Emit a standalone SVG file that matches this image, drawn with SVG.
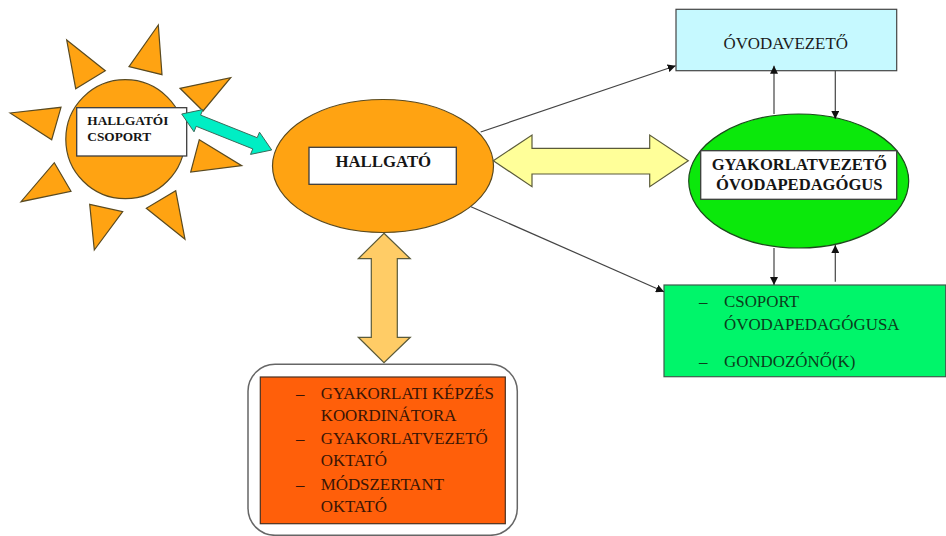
<svg xmlns="http://www.w3.org/2000/svg" width="946" height="536" viewBox="0 0 946 536">
<style>
text{font-family:"Liberation Serif","Times New Roman",serif;fill:#151515}
.n{font-size:16.9px;fill:#1c1c1c}
.dk{fill:#3a1505}
.dg{fill:#0b3d1c}
.b{font-weight:bold}
.s{stroke:#5a5a3a;stroke-width:1.2}
.o{fill:#FFA312;stroke:#5a4a20;stroke-width:1.2}
.w{fill:#fff;stroke:#3c3c3c;stroke-width:1.3}
.l{stroke:#444;stroke-width:1.2;fill:none;marker-end:url(#a)}
</style>
<defs>
<marker id="a" markerUnits="userSpaceOnUse" markerWidth="9" markerHeight="8" refX="8" refY="4" orient="auto"><path d="M0 0L8 4L0 8Z" fill="#111"/></marker>
</defs>
<rect width="946" height="536" fill="#fff"/>
<g id="sun">
<circle class="o" cx="125.3" cy="139.2" r="59.5"/>
<polygon class="o" points="158.3,25 129,66.7 162,74.7"/>
<polygon class="o" points="66.7,40 105.3,70.7 75.7,88.7"/>
<polygon class="o" points="180,88.3 230.7,77.7 203,111"/>
<polygon class="o" points="10,113 61,107.3 51.7,139.7"/>
<polygon class="o" points="199.3,139.7 241.7,165.7 190.7,172"/>
<polygon class="o" points="54.3,162.7 71,191.3 21,201.7"/>
<polygon class="o" points="175.7,190.7 185,239.3 146.3,208.3"/>
<polygon class="o" points="89.7,204.3 122.7,211.7 94.3,250"/>
<rect class="w" x="76.7" y="107.7" width="110" height="48.3"/>
<text class="b" x="87.3" y="125" font-size="13.3">HALLGATÓI</text>
<text class="b" x="87.3" y="140.7" font-size="13.3">CSOPORT</text>
</g>
<g id="hallgato">
<ellipse class="o" cx="383" cy="166" rx="110.5" ry="66.5"/>
<rect class="w" x="309" y="147.3" width="147.3" height="37"/>
<text class="b" x="383.3" y="167.3" font-size="16.8" text-anchor="middle">HALLGATÓ</text>
</g>
<g id="ovodavezeto">
<rect x="676" y="9.3" width="220.7" height="61.4" fill="#C6F9FF" stroke="#444" stroke-width="1.2"/>
<text class="n" x="785.7" y="49.3" text-anchor="middle">ÓVODAVEZETŐ</text>
</g>
<g id="gyakorlatvezeto">
<ellipse cx="798.7" cy="181" rx="110" ry="67" fill="#0BE80B" stroke="#1c4a1c" stroke-width="1.2"/>
<rect class="w" x="700.7" y="150.7" width="196" height="48.6"/>
<text class="b" x="799.3" y="170" font-size="16.6" text-anchor="middle">GYAKORLATVEZETŐ</text>
<text class="b" x="799.3" y="190" font-size="16.6" text-anchor="middle">ÓVODAPEDAGÓGUS</text>
</g>
<g id="csoport">
<rect x="664" y="285" width="281.7" height="91.7" fill="#00F56A" stroke="#3c5c4c" stroke-width="1.2"/>
<text class="n dg" x="699" y="307.3">–</text>
<text class="n dg" x="724" y="307.3">CSOPORT</text>
<text class="n dg" x="724" y="330">ÓVODAPEDAGÓGUSA</text>
<text class="n dg" x="699" y="366.7">–</text>
<text class="n dg" x="724" y="366.7">GONDOZÓNŐ(K)</text>
</g>
<g id="oktato">
<rect x="248" y="364.3" width="269.3" height="171" rx="27" fill="#fff" stroke="#666" stroke-width="1.5"/>
<rect x="260.3" y="377" width="245" height="146.7" fill="#FF5F0A" stroke="#4a3020" stroke-width="1.2"/>
<text class="n dk" x="296" y="399">–</text>
<text class="n dk" x="320.7" y="399">GYAKORLATI KÉPZÉS</text>
<text class="n dk" x="320.7" y="421">KOORDINÁTORA</text>
<text class="n dk" x="296" y="444.3">–</text>
<text class="n dk" x="320.7" y="444.3">GYAKORLATVEZETŐ</text>
<text class="n dk" x="320.7" y="466">OKTATÓ</text>
<text class="n dk" x="296" y="490.3">–</text>
<text class="n dk" x="320.7" y="490.3">MÓDSZERTANT</text>
<text class="n dk" x="320.7" y="511.7">OKTATÓ</text>
</g>
<g id="connectors">
<polygon points="181.7,114 202.9,109.6 200.6,115.1 257.2,137.7 259.5,132.2 271.7,150 250.5,154.4 252.8,148.9 196.2,126.3 194,131.8" fill="#00EEC4" stroke="#3a6a5a" stroke-width="1"/>
<polygon class="s" points="493.3,160.7 532,135 532,148.3 649.7,148.3 649.7,135 688.3,160.7 649.7,186.7 649.7,174 532,174 532,186.7" fill="#FFFF99"/>
<polygon class="s" points="384,233.3 410.3,258.7 397.3,258.7 397.3,337.3 410.3,337.3 384,362.7 358.3,337.3 371.3,337.3 371.3,258.7 358.3,258.7" fill="#FFCC66"/>
<line class="l" x1="480.7" y1="132" x2="675.7" y2="65.7"/>
<line class="l" x1="471" y1="206.7" x2="664" y2="291.7"/>
<line class="l" x1="774" y1="114" x2="774" y2="65.7"/>
<line class="l" x1="835.3" y1="70.7" x2="835.3" y2="119"/>
<line class="l" x1="774" y1="248" x2="774" y2="285"/>
<line class="l" x1="835.3" y1="281.7" x2="835.3" y2="245"/>
</g>
</svg>
